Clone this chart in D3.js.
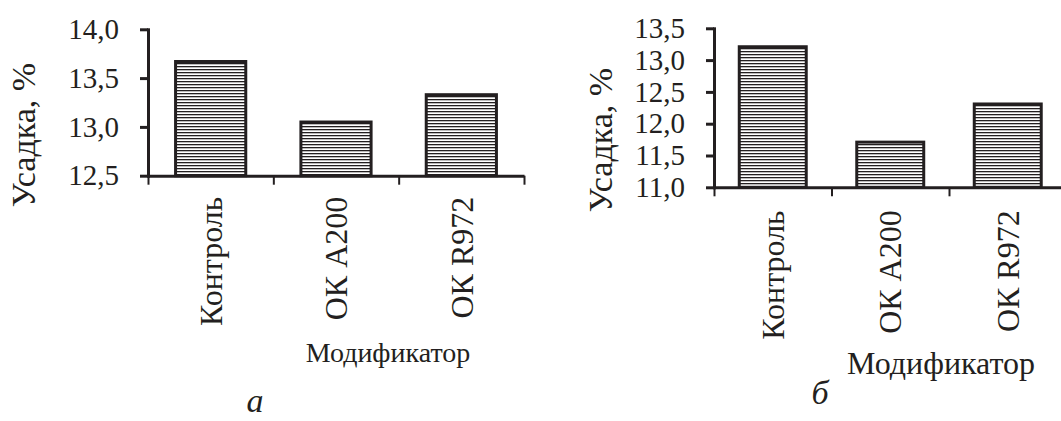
<!DOCTYPE html>
<html>
<head>
<meta charset="utf-8">
<script src="https://cdn.jsdelivr.net/npm/d3@7"></script>
<style>
  body { margin: 0; background: #fff; }
  svg, svg text { font-family: "Liberation Serif", "Times New Roman", serif; }
  svg { display: block; }
</style>
</head>
<body>
<script>
// chart data
const categories = ["Контроль", "ОК A200", "ОК R972"];
const valuesA = [13.67, 13.05, 13.33];
const valuesB = [13.21, 11.71, 12.31];
const yTicksA = [12.5, 13.0, 13.5, 14.0];
const yTicksB = [11.0, 11.5, 12.0, 12.5, 13.0, 13.5];
const yTitle = "Усадка, %";
const xTitle = "Модификатор";
const panelLabels = ["а", "б"];

const width = 1061;
const height = 421;
const ink = "#231f20";
const serif = "'Liberation Serif', 'Times New Roman', serif";

const svg = d3.select("body").append("svg")
    .attr("width", width)
    .attr("height", height);

// horizontal hatching used by every bar
const pattern = svg.append("defs").append("pattern")
    .attr("id", "stripes")
    .attr("patternUnits", "userSpaceOnUse")
    .attr("width", 8)
    .attr("height", 3);
pattern.append("rect").attr("width", 8).attr("height", 3).attr("fill", "#fff");
pattern.append("rect").attr("width", 8).attr("height", 1.3).attr("fill", ink);

const fmt = (v) => d3.format(".1f")(v).replace(".", ",");

function drawPanel(values, yTicks, label, p) {
    const g = svg.append("g");

    const y = d3.scaleLinear().domain(p.domain).range([p.yBottom, p.yTop]);
    const x = d3.scaleBand().domain(categories)
        .range([p.x0, p.x1])
        .paddingInner(p.pad)
        .paddingOuter(p.pad / 2);
    // category boundaries, where the x ticks sit
    const xb = d3.scaleLinear().domain([0, categories.length]).range([p.x0, p.x1]);

    // bars
    g.selectAll("rect.bar")
        .data(values)
        .enter()
        .append("rect")
        .attr("class", "bar")
        .attr("x", (d, i) => x(categories[i]))
        .attr("y", (d) => y(d))
        .attr("width", x.bandwidth())
        .attr("height", (d) => p.yBottom - y(d))
        .attr("fill", "url(#stripes)")
        .attr("stroke", ink)
        .attr("stroke-width", 3);

    // y axis
    const yAxis = g.append("g")
        .attr("transform", "translate(" + p.x0 + ",0)")
        .call(d3.axisLeft(y).tickValues(yTicks).tickFormat(fmt)
            .tickSize(8).tickSizeOuter(0).tickPadding(21));
    yAxis.attr("font-family", serif).attr("font-size", p.tickFont);
    yAxis.select(".domain").attr("stroke", ink).attr("stroke-width", 3)
        .attr("stroke-linecap", "square");
    yAxis.selectAll(".tick line").attr("stroke", ink).attr("stroke-width", 3);
    yAxis.selectAll(".tick text").attr("fill", ink);

    // x axis: ticks at the category boundaries
    const xAxis = g.append("g")
        .attr("transform", "translate(0," + p.yBottom + ")")
        .call(d3.axisBottom(xb).tickValues(d3.range(categories.length + 1))
            .tickFormat("").tickSize(9).tickSizeOuter(0));
    xAxis.select(".domain").attr("stroke", ink).attr("stroke-width", 3);
    xAxis.selectAll(".tick line").attr("stroke", ink).attr("stroke-width", 2);

    // rotated category names
    g.selectAll("text.cat")
        .data(categories)
        .enter()
        .append("text")
        .attr("class", "cat")
        .attr("transform", (d) => "translate(" + (x(d) + x.bandwidth() / 2) + "," + (p.yBottom + p.catGap) + ") rotate(-90)")
        .attr("dy", "0.35em")
        .attr("text-anchor", "end")
        .attr("fill", ink)
        .style("font-size", p.catFont + "px")
        .text((d) => d);

    // axis titles
    g.append("text")
        .attr("transform", "translate(" + p.yTitleX + "," + p.yTitleY + ") rotate(-90)")
        .attr("dy", "0.35em")
        .attr("text-anchor", "middle")
        .attr("fill", ink)
        .style("font-size", p.yTitleFont + "px")
        .text(yTitle);

    g.append("text")
        .attr("x", p.xTitleX)
        .attr("y", p.xTitleY)
        .attr("text-anchor", "middle")
        .attr("fill", ink)
        .style("font-size", p.xTitleFont + "px")
        .text(xTitle);

    // panel letter
    g.append("text")
        .attr("x", p.labelX)
        .attr("y", p.labelY)
        .attr("text-anchor", "middle")
        .attr("fill", ink)
        .style("font-size", "34px")
        .style("font-style", "italic")
        .text(label);
}

drawPanel(valuesA, yTicksA, panelLabels[0], {
    domain: [12.5, 14.0], x0: 148, x1: 524, yTop: 29.3, yBottom: 175.7, pad: 0.44,
    tickFont: 29, catFont: 32, catGap: 21, yTitleFont: 34, yTitleX: 23, yTitleY: 135,
    xTitleX: 388, xTitleY: 362, xTitleFont: 28, labelX: 255, labelY: 412
});

drawPanel(valuesB, yTicksB, panelLabels[1], {
    domain: [11.0, 13.5], x0: 714, x1: 1066.5, yTop: 28.3, yBottom: 187.3, pad: 0.43,
    tickFont: 29, catFont: 32, catGap: 23, yTitleFont: 34, yTitleX: 600, yTitleY: 140,
    xTitleX: 941, xTitleY: 374, xTitleFont: 32, labelX: 820, labelY: 404
});
</script>
</body>
</html>
